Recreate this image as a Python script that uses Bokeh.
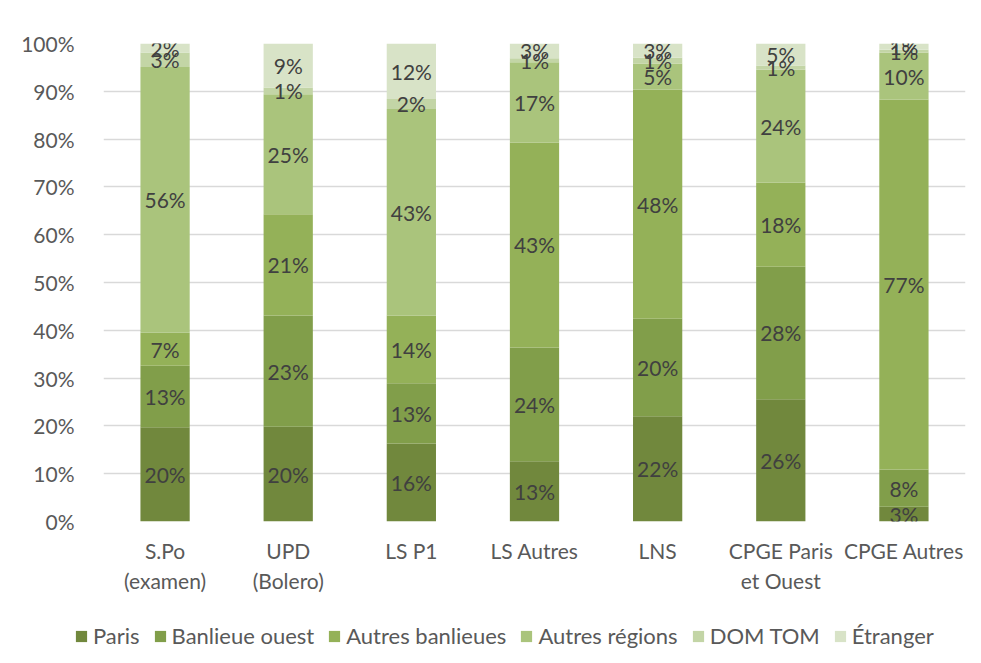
from bokeh.plotting import figure
from bokeh.models import ColumnDataSource, FactorRange
from bokeh.core.properties import value
from bokeh.embed import file_html
from bokeh.resources import INLINE

categories = ["S.Po\n(examen)", "UPD\n(Bolero)", "LS P1", "LS Autres", "LNS",
              "CPGE Paris\net Ouest", "CPGE Autres"]
series_names = ["Paris", "Banlieue ouest", "Autres banlieues", "Autres régions",
                "DOM TOM", "Étranger"]
paris = [19.7, 19.8, 16.3, 12.6, 22.0, 25.6, 3.1]
banlieue_ouest = [12.9, 23.3, 12.6, 23.8, 20.4, 27.7, 7.8]
autres_banlieues = [6.9, 21.2, 14.2, 42.9, 48.0, 17.6, 77.4]
autres_regions = [55.6, 25.1, 43.2, 16.8, 5.4, 23.6, 9.8]
dom_tom = [3.0, 1.4, 2.1, 0.8, 1.2, 0.9, 0.6]
etranger = [1.9, 9.2, 11.6, 3.1, 3.0, 4.6, 1.3]
y_ticks = [0, 10, 20, 30, 40, 50, 60, 70, 80, 90, 100]
y_tick_labels = ["0%", "10%", "20%", "30%", "40%", "50%", "60%", "70%", "80%", "90%", "100%"]

colors = ["#71883D", "#819E4A", "#94B158", "#AAC47C", "#C3D5A6", "#D8E3C7"]
series = [paris, banlieue_ouest, autres_banlieues, autres_regions, dom_tom, etranger]
keys = ["s0", "s1", "s2", "s3", "s4", "s5"]

FONT = value("Lato")

data = {"cat": categories}
for k, s in zip(keys, series):
    data[k] = s
source = ColumnDataSource(data)

p = figure(width=981, height=609, x_range=FactorRange(*categories, range_padding=0),
           y_range=(0, 100), output_backend="svg", toolbar_location=None,
           min_border_left=103, min_border_right=16, min_border_top=43,
           min_border_bottom=88)

p.vbar_stack(keys, x="cat", width=0.4, color=colors, line_color=None,
             source=source)

# data labels
lx, ly, lt = [], [], []
for i, c in enumerate(categories):
    base = 0.0
    for s in series:
        v = s[i]
        lx.append(c)
        ly.append(base + v / 2.0)
        lt.append(f"{round(v)}%")
        base += v
lsrc = ColumnDataSource(dict(x=lx, y=ly, t=lt))
p.text(x="x", y="y", text="t", source=lsrc, text_align="center",
       text_baseline="middle", text_font=FONT, text_font_size="21px",
       text_color="#404040")

# axes
p.yaxis.ticker = y_ticks
p.yaxis.major_label_overrides = {t: l for t, l in zip(y_ticks, y_tick_labels)}
p.yaxis.axis_line_color = None
p.yaxis.major_tick_line_color = None
p.yaxis.minor_tick_line_color = None
p.yaxis.major_label_standoff = 23
p.yaxis.major_label_text_font = "Lato"
p.yaxis.major_label_text_font_size = "21px"
p.yaxis.major_label_text_color = "#595959"

p.xaxis.axis_line_color = None
p.xaxis.major_tick_line_color = None
p.xaxis.major_label_standoff = 10
p.xaxis.major_label_text_font = "Lato"
p.xaxis.major_label_text_font_size = "21px"
p.xaxis.major_label_text_color = "#595959"

p.xgrid.grid_line_color = None
p.ygrid.grid_line_color = "#D9D9D9"
p.ygrid.grid_line_width = 1.5
p.outline_line_color = None

# legend in its own strip below the chart (swatch glyphs lie outside its range)
pl = figure(width=981, height=54, x_range=(0, 1), y_range=(0, 1),
            output_backend="svg", toolbar_location=None,
            min_border_left=0, min_border_right=0, min_border_top=0,
            min_border_bottom=0, x_axis_type=None, y_axis_type=None)
pl.xgrid.grid_line_color = None
pl.ygrid.grid_line_color = None
pl.outline_line_color = None
for name, c in zip(series_names, colors):
    pl.vbar(x=[50], top=[50], bottom=[40], width=0.1, color=c, line_color=None,
            legend_label=name)

leg = pl.legend[0]
leg.orientation = "horizontal"
leg.location = (74, 14)
leg.label_text_font = "Lato"
leg.label_text_font_size = "22px"
leg.label_text_color = "#595959"
leg.glyph_width = 14
leg.glyph_height = 14
leg.label_standoff = 5
leg.spacing = 13
leg.padding = 0
leg.margin = 0
leg.border_line_color = None
leg.background_fill_alpha = 0

open("out.html", "w").write(file_html([p, pl], INLINE))
